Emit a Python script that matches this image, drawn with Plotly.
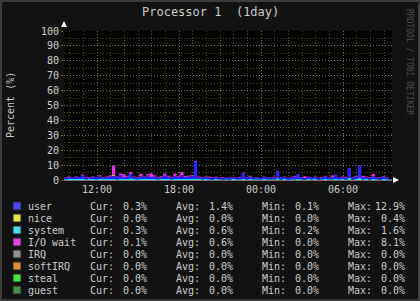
import plotly.graph_objects as go
from datetime import datetime, timedelta

# ---------------- data (15-minute samples, starting 09:35) ----------------
start_time = "2024-03-10 09:35"
step_minutes = 15

user = [
    0.8, 1.2, 0.9, 1.5,  1.0, 2.1, 1.3, 0.9,  1.4, 1.1, 1.8, 1.0,
    1.2, 1.6, 2.0, 1.3,  2.4, 1.1, 1.5, 2.8,  1.3, 1.0, 1.7, 1.2,
    2.2, 1.4, 1.6, 1.1,  1.3, 2.0, 1.5, 1.2,  1.8, 1.4, 2.1, 1.3,
    1.6, 1.8, 11.4, 1.2, 1.0, 1.4, 1.2, 0.9,  1.3, 1.1, 0.8, 1.0,
    0.9, 1.2, 1.0, 1.1,  3.6, 0.9, 1.5, 1.0,  1.2, 0.8, 1.4, 1.0,
    1.1, 1.2, 4.4, 1.0,  1.5, 0.9, 1.3, 1.4,  3.0, 1.2, 0.9, 1.4,
    1.1, 1.3, 0.9, 1.2,  1.6, 1.0, 1.2, 2.4,  1.1, 1.3, 1.2, 6.6,
    1.0, 1.4, 8.2, 1.1,  1.3, 1.0, 1.8, 1.2,  1.0, 1.4, 0.9, 0.3,
]
system = [
    0.5, 0.7, 0.6, 0.8,  0.6, 0.9, 0.5, 0.6,  0.7, 0.5, 0.8, 0.6,
    0.6, 0.7, 0.9, 0.5,  1.0, 0.6, 0.7, 1.2,  0.6, 0.5, 0.8, 0.6,
    0.9, 0.6, 0.7, 0.5,  0.6, 0.8, 0.6, 0.5,  0.7, 0.6, 0.9, 0.6,
    0.7, 0.8, 1.0, 0.6,  0.5, 0.6, 0.5, 0.4,  0.6, 0.5, 0.4, 0.5,
    0.4, 0.6, 0.5, 0.5,  0.9, 0.4, 0.6, 0.5,  0.5, 0.4, 0.6, 0.5,
    0.5, 0.5, 1.1, 0.4,  0.6, 0.4, 0.5, 0.5,  0.9, 0.5, 0.4, 0.6,
    0.5, 0.6, 0.4, 0.5,  0.7, 0.5, 0.5, 0.8,  0.5, 0.6, 0.5, 1.3,
    0.4, 0.6, 1.4, 0.5,  0.6, 0.4, 0.7, 0.5,  0.4, 0.6, 0.5, 0.3,
]
iowait = [
    0.3, 0.5, 0.2, 0.4,  0.4, 0.6, 0.3, 0.5,  0.5, 0.3, 0.6, 0.4,
    0.6, 0.8, 6.4, 0.5,  0.9, 2.1, 0.7, 1.3,  0.5, 0.4, 1.8, 0.6,
    0.8, 2.5, 0.9, 0.5,  0.6, 1.6, 0.7, 0.4,  1.9, 0.6, 2.2, 0.8,
    0.7, 0.6, 0.6, 0.5,  0.3, 0.4, 0.6, 0.3,  0.4, 0.3, 0.5, 0.2,
    0.3, 0.4, 0.2, 0.5,  0.4, 0.3, 0.8, 0.2,  0.3, 0.2, 0.4, 0.3,
    0.2, 0.5, 0.3, 0.2,  0.4, 0.2, 0.3, 0.6,  0.2, 0.3, 1.2, 0.2,
    0.3, 0.4, 0.2, 0.3,  0.5, 0.2, 1.4, 0.3,  0.3, 0.4, 0.5, 0.2,
    0.2, 0.6, 0.3, 1.3,  0.4, 0.2, 1.5, 0.3,  0.2, 0.5, 0.3, 0.1,
]
nice = [
    0.0, 0.0, 0.0, 0.0,  0.0, 0.1, 0.0, 0.0,  0.0, 0.0, 0.0, 0.0,
    0.0, 0.0, 0.4, 0.0,  0.0, 0.0, 0.0, 0.0,  0.0, 0.0, 0.0, 0.0,
    0.0, 0.0, 0.0, 0.0,  0.0, 0.0, 0.0, 0.0,  0.0, 0.0, 0.1, 0.0,
    0.0, 0.0, 0.0, 0.0,  0.0, 0.0, 0.0, 0.0,  0.0, 0.0, 0.0, 0.0,
    0.0, 0.0, 0.0, 0.0,  0.0, 0.0, 0.0, 0.0,  0.0, 0.0, 0.0, 0.0,
    0.0, 0.0, 0.0, 0.0,  0.0, 0.0, 0.0, 0.0,  0.0, 0.0, 0.0, 0.0,
    0.0, 0.0, 0.0, 0.0,  0.0, 0.0, 0.0, 0.0,  0.0, 0.0, 0.0, 0.0,
    0.0, 0.0, 0.0, 0.0,  0.0, 0.0, 0.0, 0.0,  0.0, 0.0, 0.0, 0.0,
]

legend_names = ["user", "nice", "system", "I/O wait", "IRQ", "softIRQ", "steal", "guest"]
legend_colors = ["#4848F4", "#E8E848", "#44E4F0", "#E444E4", "#909090", "#E09034", "#44E444", "#449044"]
cur_vals = ["0.3%", "0.0%", "0.3%", "0.1%", "0.0%", "0.0%", "0.0%", "0.0%"]
avg_vals = ["1.4%", "0.0%", "0.6%", "0.6%", "0.0%", "0.0%", "0.0%", "0.0%"]
min_vals = ["0.1%", "0.0%", "0.2%", "0.0%", "0.0%", "0.0%", "0.0%", "0.0%"]
max_vals = ["12.9%", "0.4%", "1.6%", "8.1%", "0.0%", "0.0%", "0.0%", "0.0%"]

y_ticks = [0, 10, 20, 30, 40, 50, 60, 70, 80, 90, 100]

# ---------------- build ----------------
t0 = datetime.strptime(start_time, "%Y-%m-%d %H:%M")
times = [t0 + timedelta(minutes=step_minutes * i) for i in range(len(user))]
times_ext = times + [t0 + timedelta(hours=24)]
def ext(v):
    return v + [v[-1]]

W, H = 420, 301
L, R, T, B = 64, 28, 31, 121
PW, PH = W - L - R, H - T - B

def px(x):
    return (x - L) / PW

def py(y):
    return (H - B - y) / PH

MONO = "DejaVu Sans Mono"
TXT = "#cccccc"

fig = go.Figure()
series = [("system", system, "#22DDEE"), ("user", user, "#2424FF"),
          ("nice", nice, "#EEEE33"), ("I/O wait", iowait, "#E030E0")]
for name, vals, col in series:
    fig.add_trace(go.Scatter(
        x=times_ext, y=ext(vals), name=name, stackgroup="cpu",
        mode="lines", line=dict(width=0, shape="hv", color=col),
        fillcolor=col, showlegend=False, hoverinfo="skip"))

fig.update_layout(
    width=W, height=H,
    margin=dict(l=L, r=R, t=T, b=B, autoexpand=False),
    paper_bgcolor="#121212", plot_bgcolor="#000000",
    showlegend=False,
    font=dict(family=MONO, size=10, color=TXT),
)
fig.update_xaxes(
    type="date", range=[t0, t0 + timedelta(hours=24)],
    tick0="2024-03-10 00:00", dtick=6 * 3600000, tickformat="%H:%M",
    showgrid=True, gridcolor="#5c7a4c", griddash="1px,2px", gridwidth=1,
    minor=dict(dtick=3600000, showgrid=True, gridcolor="#4a4a1c", griddash="1px,2px"),
    showline=True, linecolor="#777777", linewidth=1,
    ticks="", tickfont=dict(family=MONO, size=10, color=TXT),
    zeroline=False, fixedrange=True,
)
fig.update_yaxes(
    range=[0, 100], tickvals=y_ticks,
    showgrid=True, gridcolor="#5c7a4c", griddash="1px,2px",
    minor=dict(dtick=5, showgrid=True, gridcolor="#4a4a1c", griddash="1px,2px"),
    showline=False, ticks="outside", ticklen=2, tickcolor="#5c7a4c",
    tickfont=dict(family=MONO, size=10, color=TXT),
    zeroline=False, fixedrange=True,
)

ann = []
def text(x, y, s, anchor="left", size=10, color=TXT, angle=0):
    ann.append(dict(x=px(x), y=py(y), xref="paper", yref="paper", text=s,
                    showarrow=False, xanchor=anchor, yanchor="middle",
                    textangle=angle, borderpad=0,
                    font=dict(family=MONO, size=size, color=color)))

text(210, 12, "Processor 1&nbsp;&nbsp;(1day)", anchor="center", size=12)
text(11, 105, "Percent (%)", anchor="center", size=10, angle=-90)
text(410, 62, "RRDTOOL / TOBI OETIKER", anchor="center", size=8, color="#4c4c4c", angle=90)

shapes = []
for i, nm in enumerate(legend_names):
    yc = 206 + 12 * i
    shapes.append(dict(type="rect", xref="paper", yref="paper",
                       x0=px(13), x1=px(21), y0=py(yc - 4), y1=py(yc + 4),
                       fillcolor=legend_colors[i], line=dict(color="#222222", width=1)))
    text(27, yc, nm)
    text(89, yc, "Cur:")
    text(148, yc, cur_vals[i], anchor="right")
    text(175, yc, "Avg:")
    text(234, yc, avg_vals[i], anchor="right")
    text(261, yc, "Min:")
    text(320, yc, min_vals[i], anchor="right")
    text(347, yc, "Max:")
    text(406, yc, max_vals[i], anchor="right")

# axis arrows
shapes.append(dict(type="path", xref="paper", yref="paper",
                   path=f"M {px(61)} {py(27)} L {px(67)} {py(27)} L {px(64)} {py(21)} Z",
                   fillcolor="#ffffff", line=dict(width=0)))
shapes.append(dict(type="path", xref="paper", yref="paper",
                   path=f"M {px(393)} {py(177)} L {px(393)} {py(183)} L {px(399)} {py(180)} Z",
                   fillcolor="#ffffff", line=dict(width=0)))
# outer frame
shapes.append(dict(type="rect", xref="paper", yref="paper",
                   x0=px(1), x1=px(W - 1), y0=py(H - 1), y1=py(1),
                   line=dict(color="#3c3c3c", width=2), fillcolor="rgba(0,0,0,0)"))

fig.update_layout(annotations=ann, shapes=shapes)
fig.write_html("out.html")
